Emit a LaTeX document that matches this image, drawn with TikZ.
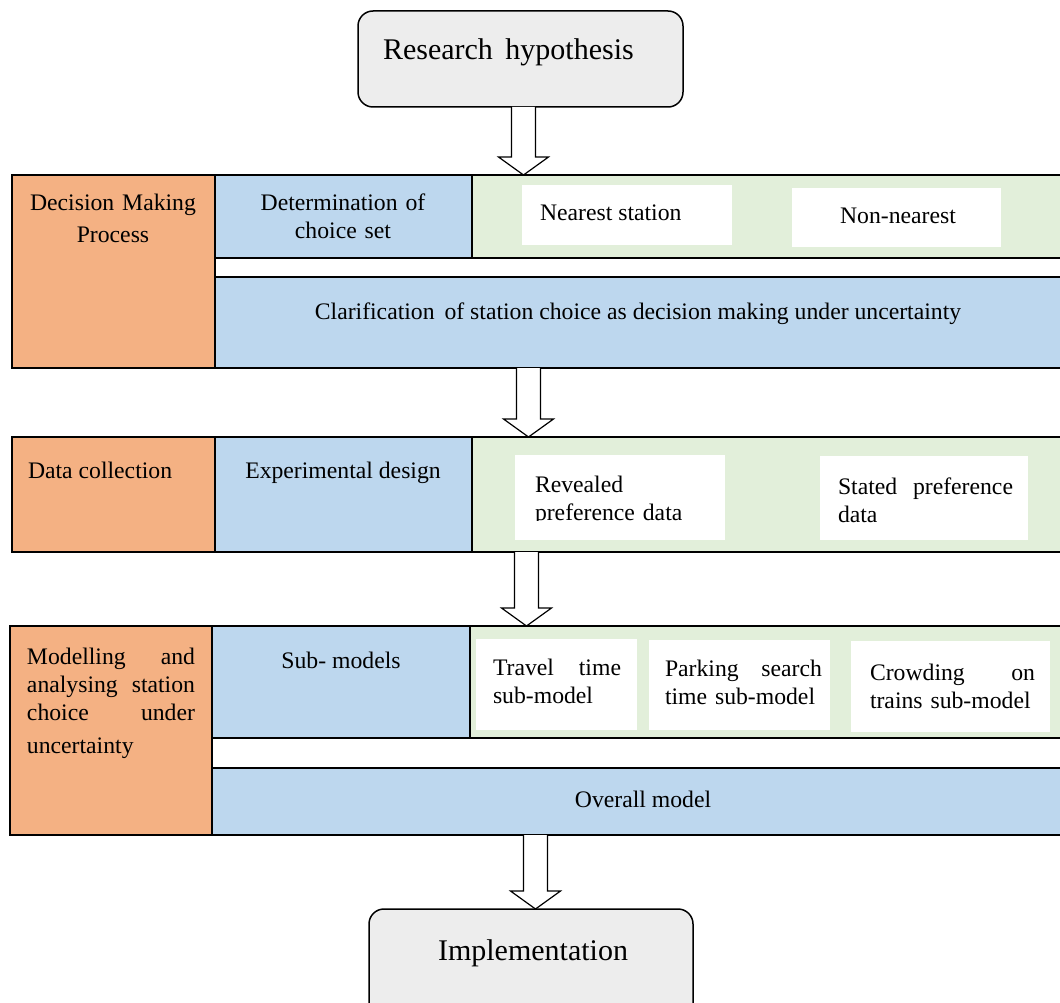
\documentclass[tikz,border=0pt]{standalone}
\usepackage{fontspec}
\setmainfont{Liberation Serif}
\usetikzlibrary{calc}

\definecolor{stageorange}{HTML}{F4B183}
\definecolor{stageblue}{HTML}{BDD7EE}
\definecolor{stagegreen}{HTML}{E2EFDA}
\definecolor{termgray}{HTML}{EDEDED}

% one justified line: first word flush left, last word flush right
\newcommand\spreadline[3]{\leavevmode\hbox to #1{#2\hfill #3}}

\tikzset{
  panel/.style={draw=black, line width=1.2pt, anchor=north west,
                inner sep=0pt, outer sep=0pt},
  labelbox/.style={fill=#1, panel},
  whitebox/.style={fill=white, anchor=north west, inner sep=0pt, outer sep=0pt},
  terminal/.style={draw=black, fill=termgray, line width=1.5pt,
                   rounded corners=15pt, anchor=north west,
                   inner sep=0pt, outer sep=0pt},
  body/.style={font=\fontsize{23.7}{28}\selectfont, inner sep=0pt, outer sep=0pt},
  title/.style={font=\fontsize{30}{36}\selectfont, inner sep=0pt, outer sep=0pt},
  blockarrow/.style={draw=black, fill=white, line width=1.2pt, line join=miter},
}

% hollow block arrow from the bottom of #1 to the top of #2, along the
% vertical line through coordinate #3
\newcommand\blockarrow[3]{%
  \draw[blockarrow] let \p1=(#1.south -| #3), \p2=(#2.north -| #3) in
    (\x1-12pt,\y1) -- (\x1-12pt,\y2+18pt) -- (\x1-25pt,\y2+18pt)
    -- (\x2,\y2) -- (\x1+25pt,\y2+18pt) -- (\x1+12pt,\y2+18pt)
    -- (\x1+12pt,\y1);}

\begin{document}
\begin{tikzpicture}[x=1pt,y=-1pt]
\clip (0,0) rectangle (1060,1003);
\fill[white] (0,0) rectangle (1060,1003);

% ---------- start ----------
\node[terminal, minimum width=325pt, minimum height=96pt] (hyp) at (358,11) {};
\node[title, anchor=base west] (hyptext) at (383,60) {Research\, hypothesis};

% ---------- stage 1: decision making ----------
\node[labelbox=stageorange, minimum width=203pt, minimum height=193pt] (o1) at (12,175) {};
\node[labelbox=stageblue, minimum width=257pt, minimum height=83pt] (b1) at (215,175) {};
\node[labelbox=stagegreen, minimum width=592pt, minimum height=83pt] (g1) at (472,175) {};
\node[whitebox, minimum width=210pt, minimum height=60pt] (w1a) at (522,185) {};
\node[whitebox, minimum width=209pt, minimum height=59pt] (w1b) at (792,188) {};
\node[labelbox=stageblue, minimum width=849pt, minimum height=91pt] (b1c) at (215,277) {};

\node[body, anchor=base, text width=200pt, align=center,
      font=\fontsize{23.7}{32}\selectfont] (o1text) at (113,211)
  {Decision Making\\Process};
\node[body, anchor=base, text width=250pt, align=center] (b1text) at (343,211)
  {Determination of\\choice set};
\node[body, anchor=base west] (w1atext) at (540,221) {Nearest station};
\node[body, anchor=base] (w1btext) at (898,223) {Non-nearest};
\node[body, anchor=base] (b1ctext) at (638,319)
  {Clarification\, of station choice as decision making under uncertainty};

% ---------- stage 2: data collection ----------
\node[labelbox=stageorange, minimum width=203pt, minimum height=115pt] (o2) at (12,437) {};
\node[labelbox=stageblue, minimum width=257pt, minimum height=115pt] (b2) at (215,437) {};
\node[labelbox=stagegreen, minimum width=592pt, minimum height=115pt] (g2) at (472,437) {};
\node[whitebox, minimum width=210pt, minimum height=85pt] (w2a) at (515,455) {};
\node[whitebox, minimum width=208pt, minimum height=84pt] (w2b) at (820,456) {};

\node[body, anchor=base west] (o2text) at (28,478) {Data collection};
\node[body, anchor=base] (b2text) at (343,478) {Experimental design};
\begin{scope}
  \clip (515,455) rectangle (725,520.5);
  \node[body, anchor=base west, text width=200pt, align=left] (w2atext) at (535,492)
    {Revealed\\preference data};
\end{scope}
\node[body, anchor=base west, text width=175pt, align=left] (w2btext) at (838,494)
  {\spreadline{175pt}{Stated}{preference}\\data};

% ---------- stage 3: modelling ----------
\node[labelbox=stageorange, minimum width=202pt, minimum height=209pt] (o3) at (10,626) {};
\node[labelbox=stageblue, minimum width=258pt, minimum height=112pt] (b3) at (212,626) {};
\node[labelbox=stagegreen, minimum width=594pt, minimum height=112pt] (g3) at (470,626) {};
\node[whitebox, minimum width=161pt, minimum height=91pt] (w3a) at (476,639) {};
\node[whitebox, minimum width=181pt, minimum height=90pt] (w3b) at (649,640) {};
\node[whitebox, minimum width=199pt, minimum height=91pt] (w3c) at (851,641) {};
\node[labelbox=stageblue, minimum width=852pt, minimum height=67pt] (b3c) at (212,768) {};

\node[body, anchor=base west, text width=168pt, align=left] (o3text) at (27,664)
  {\spreadline{168pt}{Modelling}{and}\\
   \spreadline{168pt}{analysing}{station}\\
   \spreadline{168pt}{choice}{under}\\[5pt]
   uncertainty};
\node[body, anchor=base] (b3text) at (341,668) {Sub- models};
\node[body, anchor=base west, text width=128pt, align=left] (w3atext) at (493,675)
  {\spreadline{128pt}{Travel}{time}\\sub-model};
\node[body, anchor=base west, text width=157pt, align=left] (w3btext) at (665,676)
  {\spreadline{157pt}{Parking}{search}\\time sub-model};
\node[body, anchor=base west, text width=165pt, align=left] (w3ctext) at (870,680)
  {\spreadline{165pt}{Crowding}{on}\\trains sub-model};
\node[body, anchor=base] (b3ctext) at (643,807) {Overall model};

% ---------- end ----------
\node[terminal, minimum width=324pt, minimum height=110pt] (impl) at (369,909) {};
\node[title, anchor=base] (impltext) at (533,960) {Implementation};

% ---------- flow arrows ----------
\coordinate (ax1) at (523.5,0);
\coordinate (ax2) at (528.5,0);
\coordinate (ax3) at (526.5,0);
\coordinate (ax4) at (535.5,0);
\blockarrow{hyp}{g1}{ax1}
\blockarrow{b1c}{g2}{ax2}
\blockarrow{g2}{g3}{ax3}
\blockarrow{b3c}{impl}{ax4}
\end{tikzpicture}
\end{document}
